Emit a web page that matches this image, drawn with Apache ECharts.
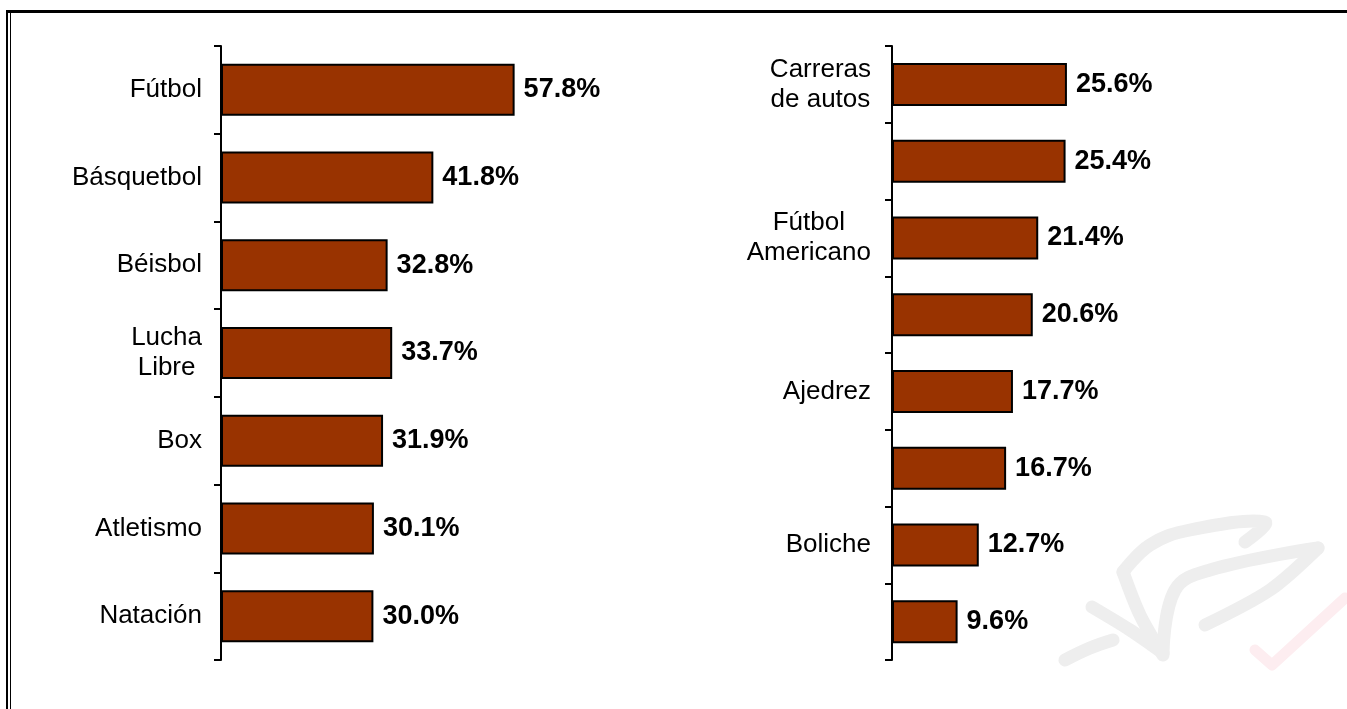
<!DOCTYPE html>
<html>
<head>
<meta charset="utf-8">
<script src="https://cdn.jsdelivr.net/npm/echarts@6/dist/echarts.min.js"></script>
<style>
  html, body { margin: 0; padding: 0; background: #fff; }
  #main { width: 1347px; height: 709px; }
</style>
</head>
<body>
<div id="main"></div>
<script>
var leftCategories = ['Fútbol', 'Básquetbol', 'Béisbol', 'Lucha\nLibre', 'Box', 'Atletismo', 'Natación'];
var leftValues = [57.8, 41.8, 32.8, 33.7, 31.9, 30.1, 30.0];

var rightCategories = ['Carreras\nde autos', '', 'Fútbol\nAmericano', '', 'Ajedrez', '', 'Boliche', ''];
var rightValues = [25.6, 25.4, 21.4, 20.6, 17.7, 16.7, 12.7, 9.6];

var chart = echarts.init(document.getElementById('main'));

var FONT = 'Liberation Sans, Arial, sans-serif';
var BAR = '#993300';

// each line centred inside the label block, block right-aligned to the axis
function centerLines(v) {
    if (!v) return '';
    return v.split('\n').map(function (s) { return '{c|' + s + '}'; }).join('\n');
}

function catAxis(idx, data, margin) {
    return {
        type: 'category',
        gridIndex: idx,
        data: data,
        inverse: true,
        axisLine: { lineStyle: { color: '#000', width: 2 } },
        axisTick: { show: true, length: 7, lineStyle: { color: '#000', width: 2 } },
        axisLabel: {
            margin: margin,
            formatter: centerLines,
            rich: {
                c: { align: 'center', fontSize: 26, fontFamily: FONT, color: '#000', lineHeight: 30 }
            }
        }
    };
}

function barSeries(idx, data, width) {
    return {
        type: 'bar',
        xAxisIndex: idx,
        yAxisIndex: idx,
        data: data,
        barWidth: width,
        itemStyle: { color: BAR, borderColor: '#000', borderWidth: 2 },
        label: {
            show: true,
            position: 'right',
            distance: 9,
            fontSize: 27,
            fontWeight: 'bold',
            fontFamily: FONT,
            color: '#000',
            formatter: function (p) { return p.value.toFixed(1) + '%'; }
        },
        animation: false
    };
}

var wm = { stroke: '#eeeeee', lineWidth: 13, lineCap: 'round', lineJoin: 'round' };

var option = {
    backgroundColor: '#fff',
    animation: false,
    grid: [
        { left: 221, top: 46, width: 508, height: 614, outerBoundsMode: 'none' },
        { left: 892, top: 46, width: 410, height: 614, outerBoundsMode: 'none' }
    ],
    xAxis: [
        { type: 'value', gridIndex: 0, min: 0, max: 100, show: false },
        { type: 'value', gridIndex: 1, min: 0, max: 60, show: false }
    ],
    yAxis: [
        catAxis(0, leftCategories, 19),
        catAxis(1, rightCategories, 21)
    ],
    series: [
        barSeries(0, leftValues, 52),
        barSeries(1, rightValues, 43)
    ],
    graphic: [
        // frame
        { type: 'rect', silent: true, shape: { x: 6, y: 10, width: 1341, height: 3 }, style: { fill: '#000' } },
        { type: 'rect', silent: true, shape: { x: 6, y: 10, width: 2, height: 699 }, style: { fill: '#000' } },
        { type: 'rect', silent: true, shape: { x: 10, y: 13, width: 1, height: 696 }, style: { fill: '#000' } },
        // faint watermark
        { type: 'polyline', silent: true, z: -1, shape: { points: [[1065, 660], [1090, 648], [1113, 640]], smooth: 0.4 }, style: wm },
        { type: 'polyline', silent: true, z: -1, shape: { points: [[1123, 572], [1150, 545], [1190, 530], [1265, 522], [1245, 542]], smooth: 0.4 }, style: wm },
        { type: 'polyline', silent: true, z: -1, shape: { points: [[1123, 572], [1140, 615], [1163, 655]], smooth: 0.3 }, style: wm },
        { type: 'polyline', silent: true, z: -1, shape: { points: [[1092, 607], [1130, 630], [1163, 653]], smooth: 0.3 }, style: wm },
        { type: 'polyline', silent: true, z: -1, shape: { points: [[1163, 653], [1175, 590], [1210, 570], [1318, 548]], smooth: 0.4 }, style: wm },
        { type: 'polyline', silent: true, z: -1, shape: { points: [[1318, 548], [1270, 590], [1205, 625]], smooth: 0.3 }, style: wm },
        { type: 'polyline', silent: true, z: -1, shape: { points: [[1255, 650], [1272, 665], [1345, 598]] }, style: { stroke: '#fdedf0', lineWidth: 11, lineCap: 'round', lineJoin: 'round' } }
    ]
};

chart.setOption(option);
</script>
</body>
</html>
